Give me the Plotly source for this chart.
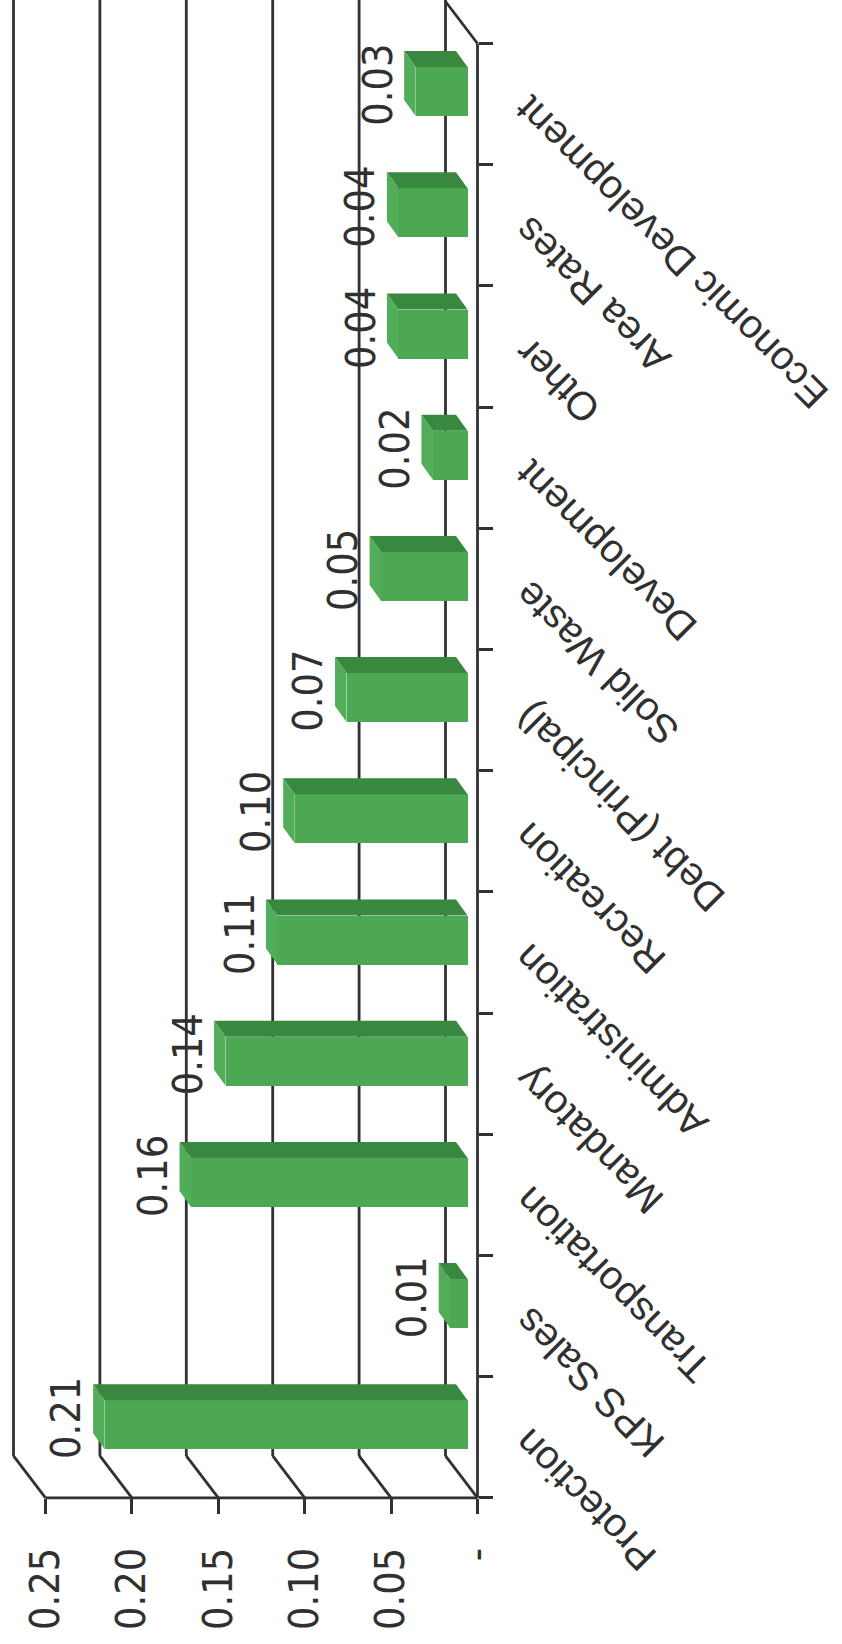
import plotly.graph_objects as go

# ---- data (bottom to top along the category axis) ----
categories = ["Protection", "KPS Sales", "Transportation", "Mandatory", "Administration",
              "Recreation", "Debt (Principal)", "Solid Waste", "Development", "Other",
              "Area Rates", "Economic Development"]
values = [0.21, 0.01, 0.16, 0.14, 0.11, 0.10, 0.07, 0.05, 0.02, 0.04, 0.04, 0.03]
value_ticks = [0, 0.05, 0.10, 0.15, 0.20, 0.25]
value_tick_text = ["-", "0.05", "0.10", "0.15", "0.20", "0.25"]

# ---- page geometry ----
W, H = 842, 1644
X_ZERO_PX = 477.5          # pixel column of value 0 on the front axis
PX_PER_UNIT = 1728.0       # pixels per 1.0 of value
Y_TOP_PX = 43.5            # pixel row of the top category boundary
SLOT_PX = 121.2            # pixels per category slot
N = len(categories)


def px_to_val(px):
    return px / PX_PER_UNIT


def px_to_idx(px):
    return px / SLOT_PX


def idx_at(py):
    return (N - 0.5) - (py - Y_TOP_PX) / SLOT_PX


x_range = [X_ZERO_PX / PX_PER_UNIT, (X_ZERO_PX - W) / PX_PER_UNIT]
y_range = [idx_at(H), idx_at(0)]

# 3-D look: back wall offset and bar depth (pixels, toward upper-left)
WALL_DX, WALL_DY = px_to_val(32), px_to_idx(42)
BAR_BASE = px_to_val(10)          # front face starts a little behind the front axis
BAR_LIFT = px_to_idx(12.5)        # front face centre sits above slot centre
BAR_HALF = px_to_idx(24.5)        # half height of the front face
DEPTH_DX, DEPTH_DY = px_to_val(11.5), px_to_idx(16)

FRONT = "#4da854"
TOP = "#388840"
END = "#52ad58"
LINE = "#303036"
TEXT = "#303030"

fig = go.Figure()

# front faces of the bars
fig.add_trace(go.Bar(
    x=values,
    y=[i + BAR_LIFT for i in range(N)],
    base=BAR_BASE,
    width=2 * BAR_HALF,
    orientation="h",
    marker=dict(color=FRONT, line=dict(width=0)),
    hoverinfo="skip",
    showlegend=False,
))

# side (top strip) and end faces as filled parallelograms
top_x, top_y, end_x, end_y = [], [], [], []
for i, v in enumerate(values):
    xr = BAR_BASE
    xl = BAR_BASE + v
    yt = i + BAR_LIFT + BAR_HALF
    yb = i + BAR_LIFT - BAR_HALF
    top_x += [xl, xr, xr + DEPTH_DX, xl + DEPTH_DX, xl, None]
    top_y += [yt, yt, yt + DEPTH_DY, yt + DEPTH_DY, yt, None]
    end_x += [xl, xl, xl + DEPTH_DX, xl + DEPTH_DX, xl, None]
    end_y += [yt, yb, yb + DEPTH_DY, yt + DEPTH_DY, yt, None]

fig.add_trace(go.Scatter(x=top_x, y=top_y, fill="toself", fillcolor=TOP, mode="none",
                         hoverinfo="skip", showlegend=False))
fig.add_trace(go.Scatter(x=end_x, y=end_y, fill="toself", fillcolor=END, mode="none",
                         hoverinfo="skip", showlegend=False))

# wall / floor frame drawn beneath the bars
shapes = []


def seg(x0, y0, x1, y1):
    shapes.append(dict(type="line", xref="x", yref="y", x0=x0, y0=y0, x1=x1, y1=y1,
                       line=dict(color=LINE, width=2.8), layer="below"))


y_wall_top = y_range[1] + 0.1
y_front_floor = -0.5
y_back_floor = -0.5 + WALL_DY
for g in value_ticks:
    seg(g + WALL_DX, y_wall_top, g + WALL_DX, y_back_floor)
    seg(g + WALL_DX, y_back_floor, g, y_front_floor)
seg(max(value_ticks), y_front_floor, 0, y_front_floor)
seg(0, y_front_floor, 0, N - 0.5)
seg(0, N - 0.5, WALL_DX, N - 0.5 + WALL_DY)

annotations = []
# value labels
for i, v in enumerate(values):
    annotations.append(dict(
        x=BAR_BASE + v, y=i, xref="x", yref="y", text=f"{v:.2f}",
        textangle=-90, xanchor="center", yanchor="middle",
        xshift=-38, yshift=19, showarrow=False,
        font=dict(family="DejaVu Sans Condensed, DejaVu Sans", size=41, color=TEXT),
    ))
# category labels
for i, c in enumerate(categories):
    annotations.append(dict(
        x=0, y=i, xref="x", yref="y", text=c,
        textangle=-135, xanchor="left", yanchor="top",
        xshift=26, yshift=19, showarrow=False,
        font=dict(family="Liberation Sans, Arial", size=40, color=TEXT),
    ))

fig.update_layout(
    width=W, height=H,
    margin=dict(l=0, r=0, t=0, b=0),
    paper_bgcolor="white", plot_bgcolor="white",
    showlegend=False,
    shapes=shapes,
    annotations=annotations,
    xaxis=dict(
        domain=[0, 1], range=x_range, showgrid=False, zeroline=False, showline=False,
        anchor="free", position=(H - 1497.5) / H,
        tickmode="array", tickvals=value_ticks, ticktext=value_tick_text,
        ticks="outside", ticklen=15, tickwidth=2.8, tickcolor=LINE,
        tickangle=-90, ticklabelstandoff=18,
        tickfont=dict(family="DejaVu Sans Condensed, DejaVu Sans", size=41, color=TEXT),
    ),
    yaxis=dict(
        domain=[0, 1], range=y_range, showgrid=False, zeroline=False, showline=False,
        anchor="free", position=X_ZERO_PX / W, side="right",
        tickmode="array", tickvals=[k - 0.5 for k in range(N + 1)],
        ticks="outside", ticklen=14, tickwidth=2.8, tickcolor=LINE,
        showticklabels=False,
    ),
    bargap=0,
)

fig.write_html("out.html")
